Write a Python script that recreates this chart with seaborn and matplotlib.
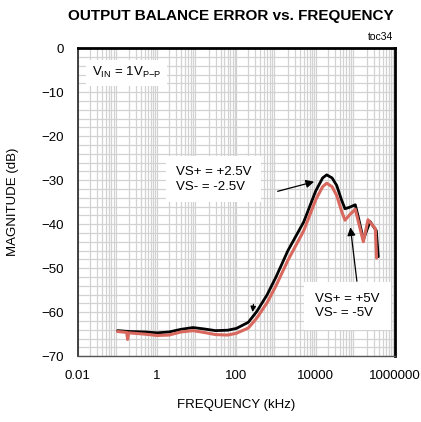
import numpy as np
import pandas as pd
import matplotlib
matplotlib.use("Agg")
import matplotlib.pyplot as plt
import seaborn as sns

# data (frequency in kHz, magnitude in dB)
freq_black = [0.1, 0.2, 0.5, 1, 2, 4, 8, 15, 30, 60, 100, 200, 330, 600, 1000,
              2000, 5000, 10000, 15000, 19000, 26000, 34000, 45000, 55000, 70000,
              100000, 120000, 160000, 236000, 290000, 340000, 380000]
mag_black = [-64.2, -64.4, -64.5, -64.7, -64.5, -63.9, -63.5, -63.8, -64.2, -64.1, -63.7,
             -62.3, -59.8, -56.0, -52.0, -46.0, -39.5, -32.5, -29.5, -28.8, -29.5,
             -31.2, -34.5, -36.5, -36.2, -35.6, -38.5, -43.5, -39.4, -40.6, -41.5, -47.4]

freq_red = [0.1, 0.17, 0.18, 0.19, 0.5, 1, 2, 4, 8, 15, 30, 60, 100, 200, 330, 600,
            1000, 2000, 5000, 10000, 15000, 19000, 26000, 34000, 45000, 55000,
            70000, 100000, 120000, 160000, 210000, 320000, 345000]
mag_red = [-64.4, -64.6, -66.2, -64.7, -65.0, -65.3, -65.2, -64.5, -64.2, -64.6, -65.1,
           -65.2, -64.8, -63.6, -61.3, -57.8, -54.0, -48.2, -41.5, -34.5, -31.5, -30.7,
           -31.5, -33.5, -37.0, -39.1, -38.0, -36.6, -39.5, -44.0, -39.0, -41.0, -47.7]

x_ticks = [0.01, 1, 100, 10000, 1000000]
x_tick_labels = ["0.01", "1", "100", "10000", "1000000"]
y_ticks = [0, -10, -20, -30, -40, -50, -60, -70]

sns.set_style("white")
plt.rcParams['font.family'] = ['Liberation Sans', 'DejaVu Sans']
plt.rcParams['text.color'] = 'black'
plt.rcParams['axes.labelcolor'] = 'black'
plt.rcParams['xtick.color'] = 'black'
plt.rcParams['ytick.color'] = 'black'

fig = plt.figure(figsize=(4.21, 4.22), dpi=100)
ax = fig.add_axes([0.185, 0.156, 0.753, 0.730])

df_black = pd.DataFrame({"freq": freq_black, "mag": mag_black})
df_red = pd.DataFrame({"freq": freq_red, "mag": mag_red})
sns.lineplot(data=df_red, x="freq", y="mag", color="#d9685e", lw=2.2, ax=ax, zorder=4)
sns.lineplot(data=df_black, x="freq", y="mag", color="black", lw=2.0, ax=ax, zorder=3)

ax.set_xscale("log")
ax.set_xlim(0.01, 1e6)
ax.set_ylim(-70, 0)
ax.set_xticks(x_ticks)
ax.set_xticklabels(x_tick_labels)
ax.set_yticks(y_ticks)
ax.set_yticks(np.arange(-70, 0, 2), minor=True)
ax.xaxis.set_minor_locator(matplotlib.ticker.LogLocator(base=10, subs=np.arange(2, 10), numticks=20))
ax.xaxis.set_minor_formatter(matplotlib.ticker.NullFormatter())
ax.grid(True, which="both", color="#d2d2d2", lw=0.9)
ax.tick_params(axis="x", which="major", length=3, width=0.8, pad=7, labelsize=9.5)
ax.tick_params(axis="x", which="minor", length=0)
ax.tick_params(axis="y", which="both", length=0, pad=10, labelsize=9.5)
ax.set_xlabel("FREQUENCY (kHz)", fontsize=9.5, labelpad=12)
ax.set_ylabel("MAGNITUDE (dB)", fontsize=9.5, labelpad=16)

for side in ["top", "right"]:
    ax.spines[side].set_linewidth(2.0)
    ax.spines[side].set_color("black")
ax.spines["left"].set_linewidth(1.3)
ax.spines["left"].set_color("#333333")
ax.spines["bottom"].set_linewidth(1.0)
ax.spines["bottom"].set_color("#555555")

box = dict(facecolor="white", edgecolor="none", pad=4)
ax.text(0.0225, -5.6, r"V$_{\mathregular{IN}}$ = 1V$_{\mathregular{P{-}P}}$",
        fontsize=9.5, va="center", ha="left", bbox=box, zorder=6)

ax.text(3.0, -29.8, "VS+ = +2.5V\nVS- = -2.5V", fontsize=9.5, va="center", ha="left",
        linespacing=1.3, bbox=dict(facecolor="white", edgecolor="none", pad=7), zorder=6)
ax.annotate("", xy=(10700, -30.2), xytext=(940, -32.7),
            arrowprops=dict(arrowstyle="-|>", color="black", lw=0.9, mutation_scale=12), zorder=7)

ax.text(9600, -58.6, "VS+ = +5V\nVS- = -5V", fontsize=9.5, va="center", ha="left",
        linespacing=1.3, bbox=dict(facecolor="white", edgecolor="none", pad=8), zorder=6)
ax.annotate("", xy=(74000, -40.1), xytext=(112000, -53.6),
            arrowprops=dict(arrowstyle="-|>", color="black", lw=0.9, mutation_scale=12), zorder=7)
ax.annotate("", xy=(250, -60.6), xytext=(275, -57.6),
            arrowprops=dict(arrowstyle="-|>", color="black", lw=0.9, mutation_scale=8), zorder=7)

fig.text(0.549, 0.962, "OUTPUT BALANCE ERROR vs. FREQUENCY", ha="center", va="center",
         fontsize=11, fontweight="bold")
fig.text(0.935, 0.912, "toc34", ha="right", va="center", fontsize=7.5)

fig.savefig("out.png", dpi=100)
